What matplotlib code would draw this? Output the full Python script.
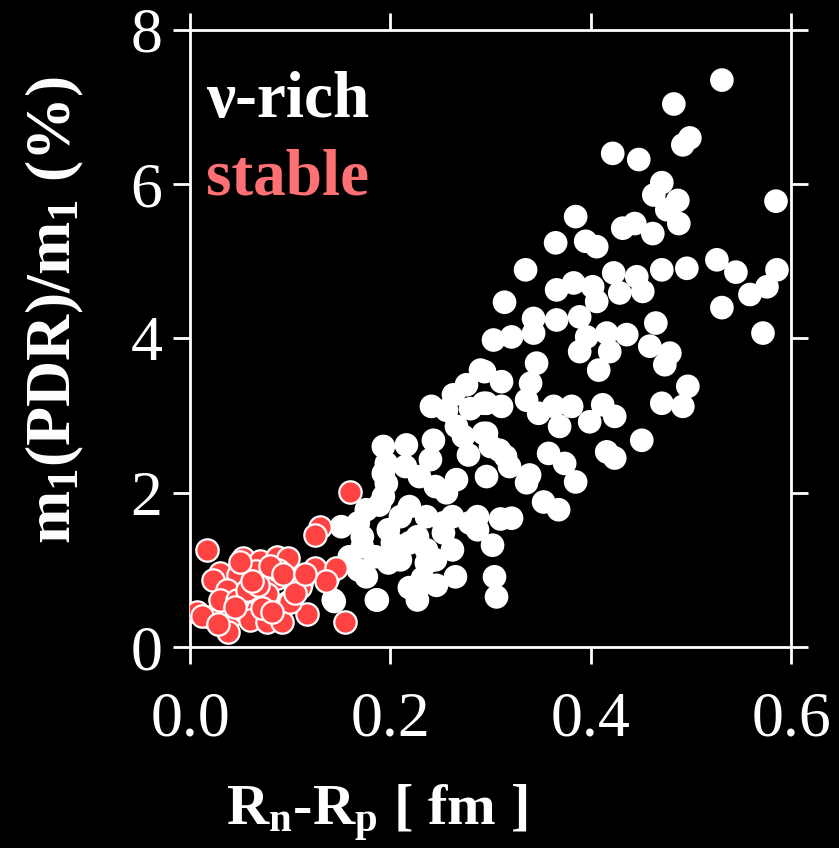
import numpy as np
import matplotlib.pyplot as plt

plt.rcParams['font.family'] = ['Liberation Serif', 'DejaVu Serif']
plt.rcParams['mathtext.fontset'] = 'custom'
plt.rcParams['mathtext.rm'] = 'Liberation Serif:bold'
plt.rcParams['mathtext.it'] = 'Liberation Serif:italic:bold'
plt.rcParams['mathtext.bf'] = 'Liberation Serif:bold'

# neutron-rich nuclei (white)
rich_x = [0.531, 0.483, 0.492, 0.499, 0.422, 0.448, 0.471, 0.463, 0.487, 0.476,
          0.488, 0.585, 0.385, 0.432, 0.444, 0.462, 0.365, 0.395, 0.406,
          0.335, 0.366, 0.383, 0.402, 0.406, 0.423, 0.429, 0.446, 0.452, 0.471,
          0.496, 0.526, 0.545, 0.559, 0.576, 0.586, 0.531, 0.572,
          0.314, 0.343, 0.366, 0.389, 0.303, 0.321, 0.343, 0.389, 0.396, 0.416,
          0.436, 0.465, 0.459, 0.479, 0.474, 0.419, 0.408, 0.346,
          0.294, 0.311, 0.340, 0.336, 0.296, 0.311, 0.348, 0.363, 0.381, 0.369,
          0.399, 0.412, 0.424, 0.471, 0.497, 0.492, 0.451, 0.358, 0.374, 0.416,
          0.424, 0.296, 0.309, 0.319, 0.339,
          0.385, 0.336, 0.353, 0.368, 0.321, 0.302, 0.304, 0.306, 0.265, 0.262,
          0.236, 0.232, 0.219, 0.227, 0.187, 0.144, 0.138,
          0.290, 0.276, 0.263, 0.241, 0.256, 0.280, 0.293, 0.266, 0.273, 0.293,
          0.300, 0.278, 0.315, 0.296, 0.266, 0.243, 0.216, 0.193, 0.196, 0.240,
          0.229, 0.196, 0.215, 0.193, 0.245, 0.219, 0.210, 0.236, 0.193, 0.189,
          0.176, 0.168, 0.151, 0.198, 0.172, 0.202, 0.185, 0.168, 0.176, 0.210,
          0.198, 0.253, 0.262, 0.287, 0.287, 0.253, 0.279, 0.227, 0.219, 0.236,
          0.245, 0.159, 0.172, 0.143, 0.186, 0.310, 0.256, 0.226, 0.246]
rich_y = [7.35, 7.04, 6.51, 6.60, 6.40, 6.32, 6.02, 5.86, 5.79, 5.67,
          5.49, 5.78, 5.58, 5.43, 5.49, 5.36, 5.24, 5.26, 5.19,
          4.89, 4.63, 4.72, 4.67, 4.48, 4.85, 4.59, 4.80, 4.61, 4.89,
          4.91, 5.02, 4.86, 4.57, 4.67, 4.89, 4.40, 4.07,
          4.47, 4.26, 4.24, 4.28, 3.98, 4.02, 4.07, 3.83, 4.02, 4.07,
          4.05, 4.20, 3.90, 3.81, 3.66, 3.83, 3.59, 3.68,
          3.57, 3.44, 3.42, 3.20, 3.16, 3.12, 3.03, 3.12, 3.12, 2.86,
          2.92, 3.14, 2.99, 3.16, 3.38, 3.12, 2.68, 2.51, 2.38, 2.53,
          2.45, 2.77, 2.55, 2.34, 2.23,
          2.14, 2.13, 1.88, 1.78, 1.67, 1.32, 0.91, 0.65, 0.91, 1.26,
          1.26, 0.89, 0.77, 0.61, 0.61, 0.59, 0.89,
          3.59, 3.40, 3.27, 3.12, 3.07, 3.09, 3.16, 2.86, 2.73, 2.77,
          2.60, 2.49, 2.47, 2.21, 2.17, 2.68, 2.62, 2.60, 2.38, 2.43,
          2.21, 2.12, 2.34, 2.25, 2.08, 1.82, 1.69, 1.69, 1.95, 1.84,
          1.78, 1.61, 1.56, 1.52, 1.43, 1.35, 1.17, 1.00, 0.91, 1.13,
          1.09, 1.61, 1.69, 1.69, 1.52, 1.48, 1.61, 1.43, 1.35, 1.09,
          1.13, 1.17, 1.30, 0.61, 0.61, 1.66, 2.00, 0.70, 0.80]

# stable nuclei (red)
stable_x = [0.160, 0.130, 0.125, 0.017, 0.053, 0.070, 0.087, 0.098, 0.030, 0.023,
            0.048, 0.066, 0.087, 0.111, 0.125, 0.146, 0.136, 0.037, 0.063, 0.077,
            0.098, 0.007, 0.020, 0.042, 0.055, 0.038, 0.060, 0.077, 0.092, 0.117,
            0.155, 0.030, 0.047, 0.057, 0.100, 0.110, 0.103, 0.088, 0.068, 0.080,
            0.045, 0.012, 0.072, 0.105, 0.082, 0.028, 0.062, 0.093, 0.050, 0.115]
stable_y = [2.01, 1.56, 1.45, 1.26, 1.15, 1.11, 1.17, 1.15, 0.96, 0.87,
            0.93, 0.98, 0.89, 0.83, 1.02, 1.02, 0.85, 0.74, 0.63, 0.69,
            0.59, 0.46, 0.39, 0.41, 0.46, 0.20, 0.35, 0.33, 0.33, 0.43,
            0.33, 0.61, 0.61, 0.74, 0.59, 0.78, 0.87, 1.00, 0.80, 1.05,
            0.52, 0.40, 0.50, 0.70, 0.45, 0.30, 0.85, 0.95, 1.10, 0.95]

fig = plt.figure(figsize=(8.39, 8.48), dpi=100, facecolor='black')
ax = fig.add_axes([0.2265, 0.237, 0.7163, 0.7277])
ax.set_facecolor('black')

ax.scatter(rich_x, rich_y, s=290, c='white', edgecolors='none', zorder=3)
ax.scatter(stable_x, stable_y, s=260, c='#ff4242', edgecolors='white',
           linewidths=1.6, zorder=4)

ax.set_xlim(0, 0.6)
ax.set_ylim(0, 8)
ax.set_xticks([0.0, 0.2, 0.4, 0.6])
ax.set_xticklabels(['0.0', '0.2', '0.4', '0.6'])
ax.set_yticks([0, 2, 4, 6, 8])
ax.set_yticklabels(['0', '2', '4', '6', '8'])

for sp in ax.spines.values():
    sp.set_color('white')
    sp.set_linewidth(2)
ax.tick_params(axis='both', which='both', direction='out', length=12, width=2,
               color='white', labelcolor='white', labelsize=46,
               top=True, right=True)
ax.tick_params(axis='x', pad=20)
ax.tick_params(axis='y', pad=8)

ax.set_xlabel(r'R$_\mathrm{n}$-R$_\mathrm{p}$ [ fm ]', color='white',
              fontsize=42, fontweight='bold')
ax.xaxis.set_label_coords(0.311, -0.288)
ax.xaxis.label.set_va('baseline')
ax.set_ylabel(r'm$_\mathrm{1}$(PDR)/m$_\mathrm{1}$ (%)', color='white',
              fontsize=46, fontweight='bold')
ax.yaxis.set_label_coords(-0.225, 0.546)
ax.yaxis.label.set_va('center')

ax.text(0.027, 0.859, 'ν-rich', transform=ax.transAxes, color='white',
        fontsize=47, fontweight='bold', va='baseline', ha='left')
ax.text(0.027, 0.733, 'stable', transform=ax.transAxes, color='#ff7075',
        fontsize=47, fontweight='bold', va='baseline', ha='left')

fig.savefig('out.png', dpi=100, facecolor='black')
